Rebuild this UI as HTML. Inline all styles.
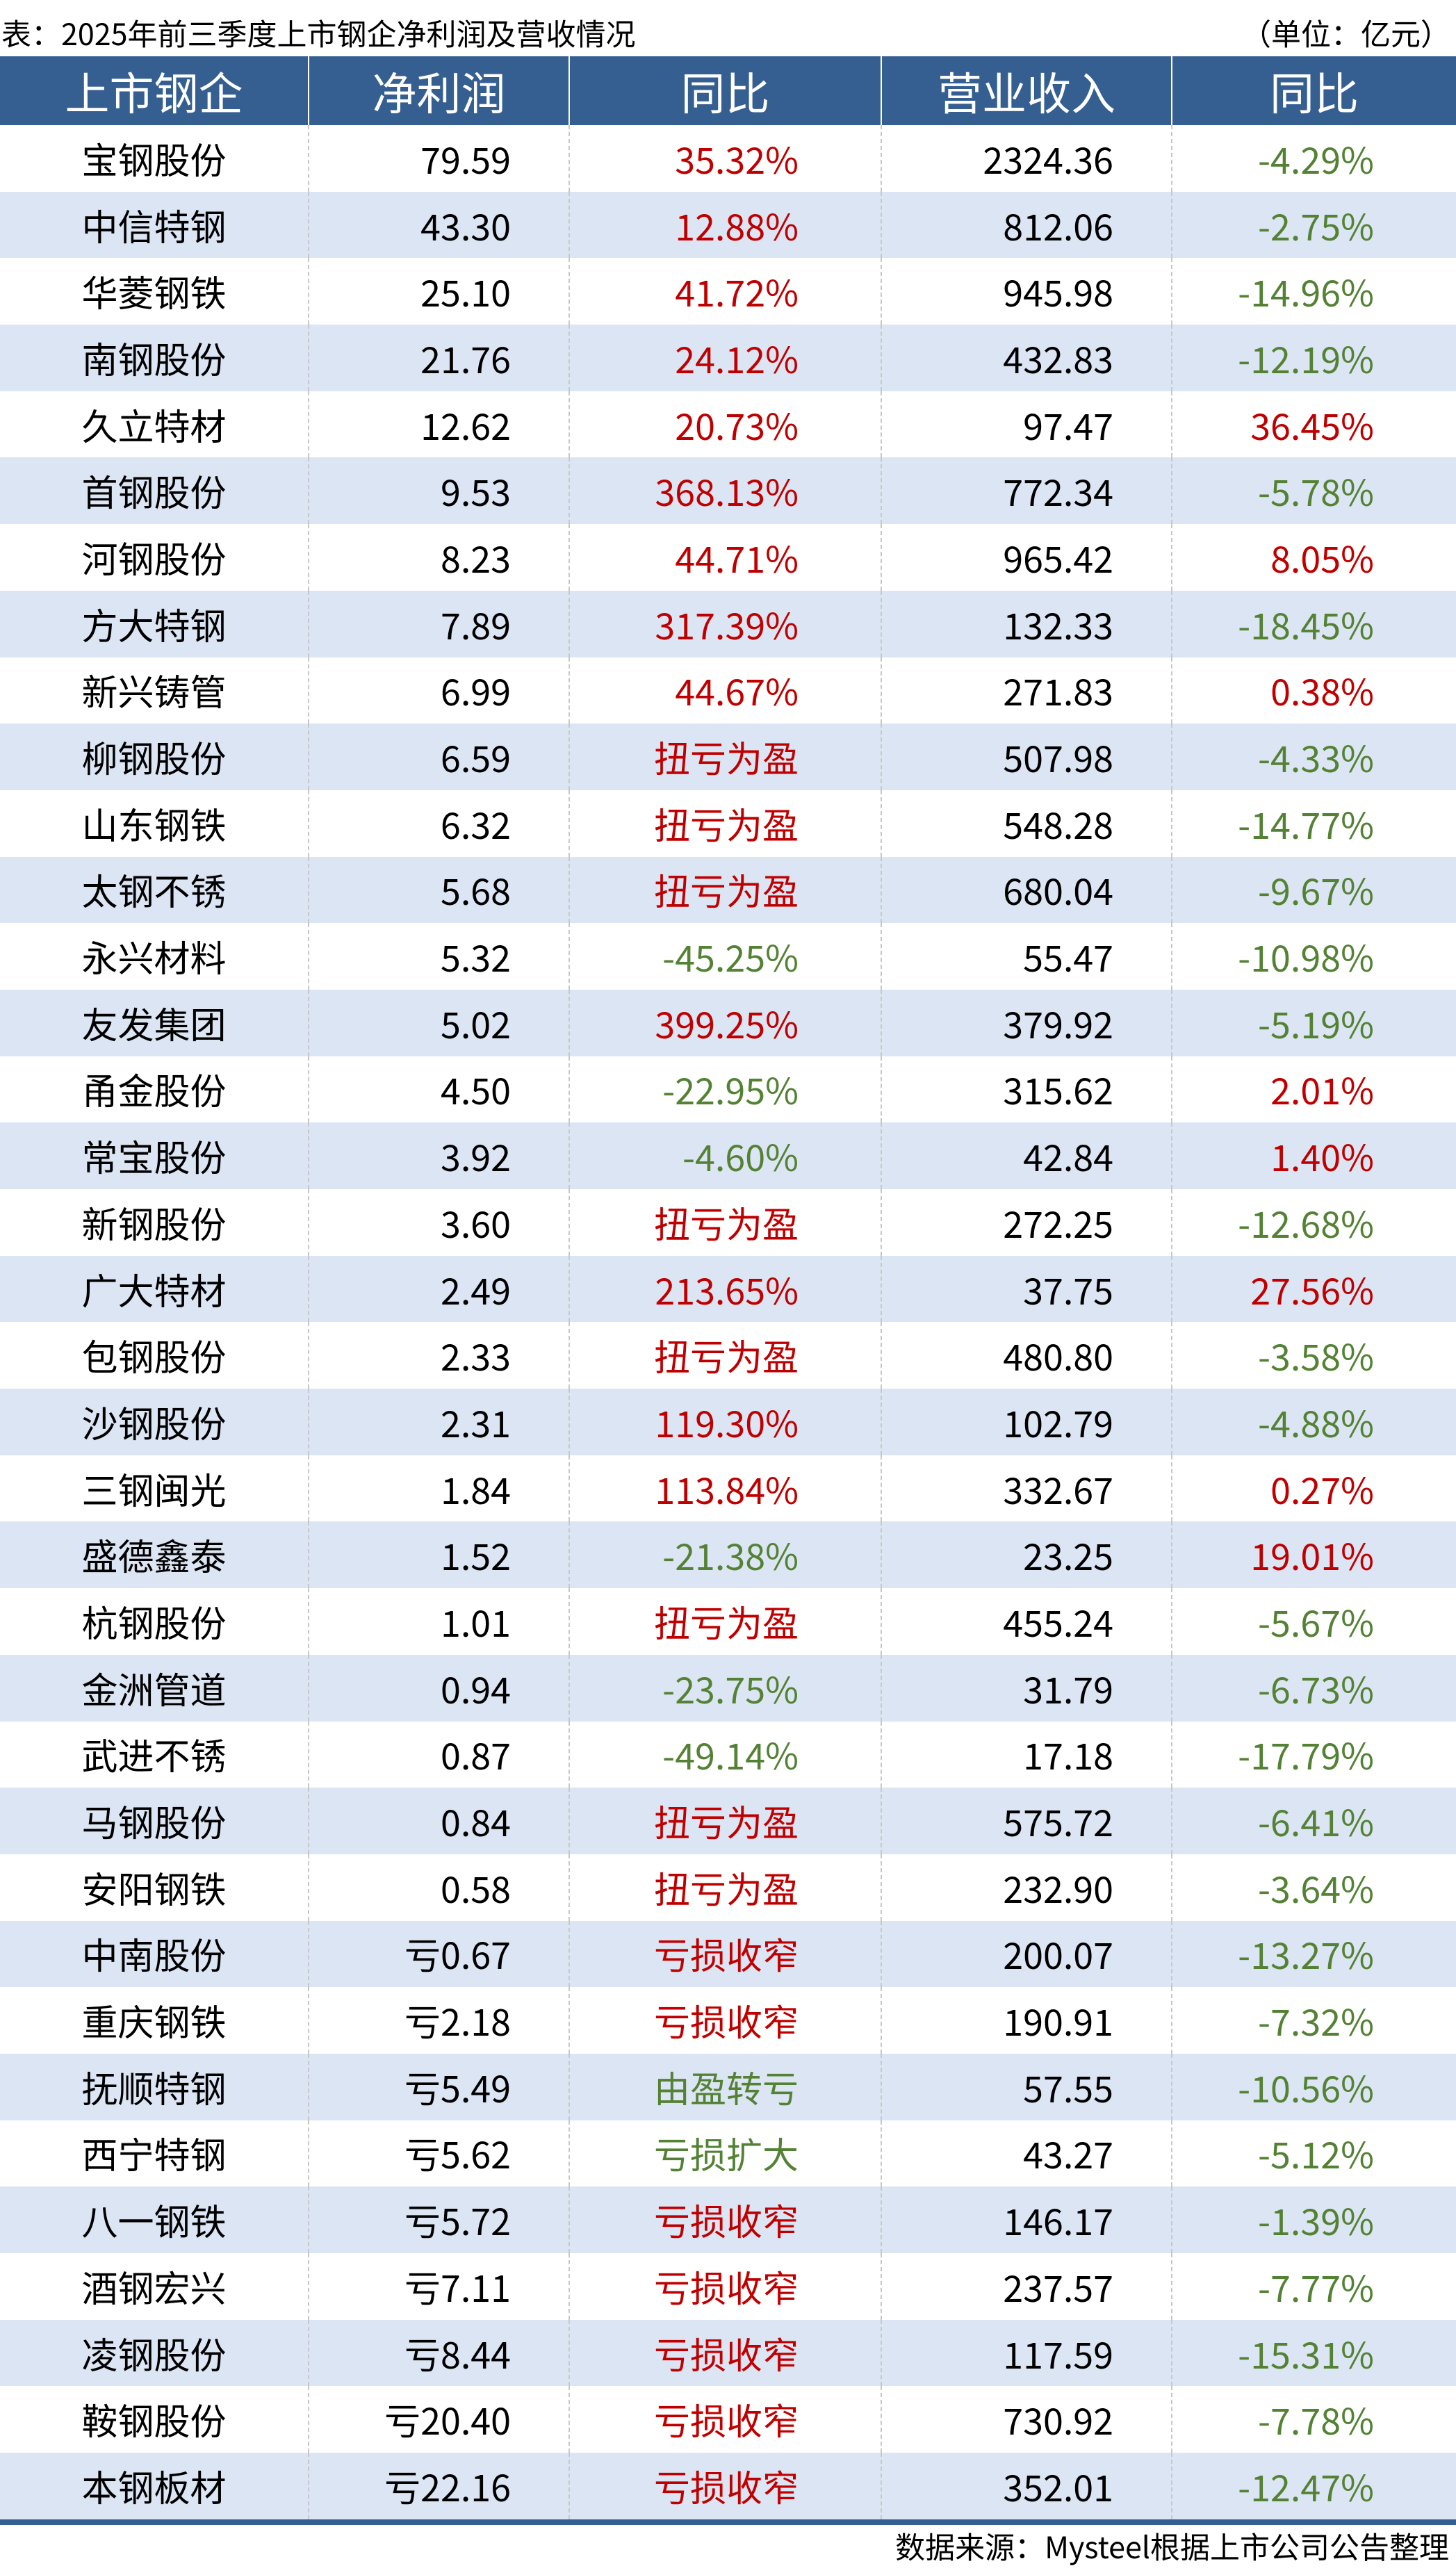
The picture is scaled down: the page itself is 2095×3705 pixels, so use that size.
<!DOCTYPE html>
<html><head><meta charset="utf-8"><style>
body{margin:0;width:2095px;height:3705px;background:#fff;position:relative;overflow:hidden;font-family:"Noto Sans CJK SC","Liberation Sans",sans-serif;}
.t{position:absolute;top:16px;left:2px;font-size:43px;color:#000;line-height:62px;}
.u{position:absolute;top:16px;right:8px;font-size:43px;line-height:62px;}
.f{position:absolute;top:3630px;right:10px;font-size:43px;line-height:66px;}
table{position:absolute;left:0;top:81px;width:2095px;border-collapse:collapse;table-layout:fixed;}
td{padding:0;font-size:52px;height:95.7px;line-height:52px;border-left:2px dashed #c8c8c8;white-space:nowrap;}
td:first-child{border-left:none;text-align:center;}
td:nth-child(2),td:nth-child(4){text-align:right;padding-right:83px;}
td:nth-child(3),td:nth-child(5){text-align:right;padding-right:118px;}
th{background:#365f91;color:#fff;font-weight:normal;font-size:64px;height:97px;border-left:2px solid #fff;}
th:first-child{border-left:none;}
tr:nth-child(odd) td{background:#dce5f3;}
tr:last-child td{border-bottom:8px solid #365f91;}
.r{color:#c00000}.g{color:#548235}
</style></head><body>
<div class="t">表：2025年前三季度上市钢企净利润及营收情况</div>
<div class="u">（单位：亿元）</div>
<table>
<colgroup><col style="width:444px"><col style="width:375px"><col style="width:449px"><col style="width:418px"><col style="width:409px"></colgroup>
<tr><th>上市钢企</th><th>净利润</th><th>同比</th><th>营业收入</th><th>同比</th></tr>
<tr><td>宝钢股份</td><td>79.59</td><td class="r">35.32%</td><td>2324.36</td><td class="g">-4.29%</td></tr>
<tr><td>中信特钢</td><td>43.30</td><td class="r">12.88%</td><td>812.06</td><td class="g">-2.75%</td></tr>
<tr><td>华菱钢铁</td><td>25.10</td><td class="r">41.72%</td><td>945.98</td><td class="g">-14.96%</td></tr>
<tr><td>南钢股份</td><td>21.76</td><td class="r">24.12%</td><td>432.83</td><td class="g">-12.19%</td></tr>
<tr><td>久立特材</td><td>12.62</td><td class="r">20.73%</td><td>97.47</td><td class="r">36.45%</td></tr>
<tr><td>首钢股份</td><td>9.53</td><td class="r">368.13%</td><td>772.34</td><td class="g">-5.78%</td></tr>
<tr><td>河钢股份</td><td>8.23</td><td class="r">44.71%</td><td>965.42</td><td class="r">8.05%</td></tr>
<tr><td>方大特钢</td><td>7.89</td><td class="r">317.39%</td><td>132.33</td><td class="g">-18.45%</td></tr>
<tr><td>新兴铸管</td><td>6.99</td><td class="r">44.67%</td><td>271.83</td><td class="r">0.38%</td></tr>
<tr><td>柳钢股份</td><td>6.59</td><td class="r">扭亏为盈</td><td>507.98</td><td class="g">-4.33%</td></tr>
<tr><td>山东钢铁</td><td>6.32</td><td class="r">扭亏为盈</td><td>548.28</td><td class="g">-14.77%</td></tr>
<tr><td>太钢不锈</td><td>5.68</td><td class="r">扭亏为盈</td><td>680.04</td><td class="g">-9.67%</td></tr>
<tr><td>永兴材料</td><td>5.32</td><td class="g">-45.25%</td><td>55.47</td><td class="g">-10.98%</td></tr>
<tr><td>友发集团</td><td>5.02</td><td class="r">399.25%</td><td>379.92</td><td class="g">-5.19%</td></tr>
<tr><td>甬金股份</td><td>4.50</td><td class="g">-22.95%</td><td>315.62</td><td class="r">2.01%</td></tr>
<tr><td>常宝股份</td><td>3.92</td><td class="g">-4.60%</td><td>42.84</td><td class="r">1.40%</td></tr>
<tr><td>新钢股份</td><td>3.60</td><td class="r">扭亏为盈</td><td>272.25</td><td class="g">-12.68%</td></tr>
<tr><td>广大特材</td><td>2.49</td><td class="r">213.65%</td><td>37.75</td><td class="r">27.56%</td></tr>
<tr><td>包钢股份</td><td>2.33</td><td class="r">扭亏为盈</td><td>480.80</td><td class="g">-3.58%</td></tr>
<tr><td>沙钢股份</td><td>2.31</td><td class="r">119.30%</td><td>102.79</td><td class="g">-4.88%</td></tr>
<tr><td>三钢闽光</td><td>1.84</td><td class="r">113.84%</td><td>332.67</td><td class="r">0.27%</td></tr>
<tr><td>盛德鑫泰</td><td>1.52</td><td class="g">-21.38%</td><td>23.25</td><td class="r">19.01%</td></tr>
<tr><td>杭钢股份</td><td>1.01</td><td class="r">扭亏为盈</td><td>455.24</td><td class="g">-5.67%</td></tr>
<tr><td>金洲管道</td><td>0.94</td><td class="g">-23.75%</td><td>31.79</td><td class="g">-6.73%</td></tr>
<tr><td>武进不锈</td><td>0.87</td><td class="g">-49.14%</td><td>17.18</td><td class="g">-17.79%</td></tr>
<tr><td>马钢股份</td><td>0.84</td><td class="r">扭亏为盈</td><td>575.72</td><td class="g">-6.41%</td></tr>
<tr><td>安阳钢铁</td><td>0.58</td><td class="r">扭亏为盈</td><td>232.90</td><td class="g">-3.64%</td></tr>
<tr><td>中南股份</td><td>亏0.67</td><td class="r">亏损收窄</td><td>200.07</td><td class="g">-13.27%</td></tr>
<tr><td>重庆钢铁</td><td>亏2.18</td><td class="r">亏损收窄</td><td>190.91</td><td class="g">-7.32%</td></tr>
<tr><td>抚顺特钢</td><td>亏5.49</td><td class="g">由盈转亏</td><td>57.55</td><td class="g">-10.56%</td></tr>
<tr><td>西宁特钢</td><td>亏5.62</td><td class="g">亏损扩大</td><td>43.27</td><td class="g">-5.12%</td></tr>
<tr><td>八一钢铁</td><td>亏5.72</td><td class="r">亏损收窄</td><td>146.17</td><td class="g">-1.39%</td></tr>
<tr><td>酒钢宏兴</td><td>亏7.11</td><td class="r">亏损收窄</td><td>237.57</td><td class="g">-7.77%</td></tr>
<tr><td>凌钢股份</td><td>亏8.44</td><td class="r">亏损收窄</td><td>117.59</td><td class="g">-15.31%</td></tr>
<tr><td>鞍钢股份</td><td>亏20.40</td><td class="r">亏损收窄</td><td>730.92</td><td class="g">-7.78%</td></tr>
<tr><td>本钢板材</td><td>亏22.16</td><td class="r">亏损收窄</td><td>352.01</td><td class="g">-12.47%</td></tr>
</table>
<div class="f">数据来源：Mysteel根据上市公司公告整理</div>
</body></html>
